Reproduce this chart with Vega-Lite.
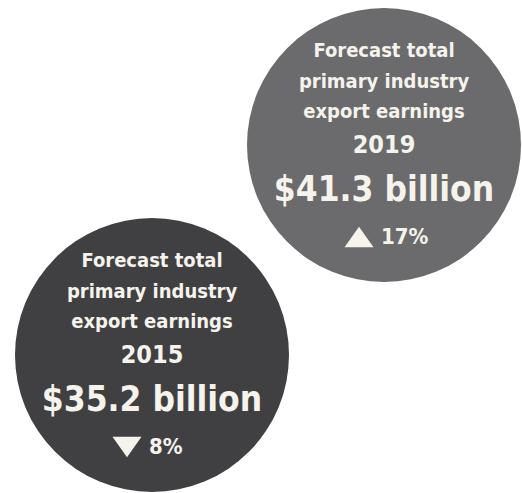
{
  "$schema": "https://vega.github.io/schema/vega-lite/v6.json",
  "width": 522,
  "height": 493,
  "autosize": "none",
  "padding": 0,
  "background": "white",
  "config": {"view": {"stroke": null}, "text": {"font": "Liberation Sans Narrow, DejaVu Sans Condensed, sans-serif", "fontWeight": "bold", "color": "#f5f3ec", "align": "center", "baseline": "middle"}},
  "data": {"values": [
    {"year": 2015, "earnings": 35.2, "line1": "Forecast total", "line2": "primary industry", "line3": "export earnings", "yearLabel": "2015", "amount": "$35.2 billion", "change": "8%", "direction": "down"},
    {"year": 2019, "earnings": 41.3, "line1": "Forecast total", "line2": "primary industry", "line3": "export earnings", "yearLabel": "2019", "amount": "$41.3 billion", "change": "17%", "direction": "up"}
  ]},
  "encoding": {
    "x": {"field": "year", "type": "quantitative", "scale": {"domain": [2015, 2019], "range": [152, 384]}, "axis": null},
    "y": {"field": "earnings", "type": "quantitative", "scale": {"domain": [35.2, 41.3], "range": [355, 145], "zero": false}, "axis": null}
  },
  "layer": [
    {"mark": {"type": "point", "filled": true, "opacity": 1, "size": 75076, "shape": "circle"},
     "encoding": {"color": {"field": "year", "type": "nominal", "scale": {"domain": [2015, 2019], "range": ["#404042", "#6b6b6d"]}, "legend": null}}},
    {"mark": {"type": "text", "dy": -94, "fontSize": 20}, "encoding": {"text": {"field": "line1"}}},
    {"mark": {"type": "text", "dy": -63, "fontSize": 20}, "encoding": {"text": {"field": "line2"}}},
    {"mark": {"type": "text", "dy": -33, "fontSize": 20}, "encoding": {"text": {"field": "line3"}}},
    {"mark": {"type": "text", "dy": 0, "fontSize": 25}, "encoding": {"text": {"field": "yearLabel"}}},
    {"mark": {"type": "text", "dy": 45, "fontSize": 35}, "encoding": {"text": {"field": "amount"}}},
    {"mark": {"type": "text", "dy": 92, "dx": -3, "fontSize": 22, "align": "left"}, "encoding": {"text": {"field": "change"}}},
    {"mark": {"type": "point", "filled": true, "opacity": 1, "size": 841, "color": "#f5f3ec"},
     "encoding": {
       "shape": {"field": "direction", "type": "nominal", "scale": {"domain": ["up", "down"], "range": ["M-1,0.7L1,0.7L0,-0.7Z", "M-1,-0.7L1,-0.7L0,0.7Z"]}, "legend": null},
       "xOffset": {"value": -25},
       "yOffset": {"value": 92}
     }}
  ]
}
